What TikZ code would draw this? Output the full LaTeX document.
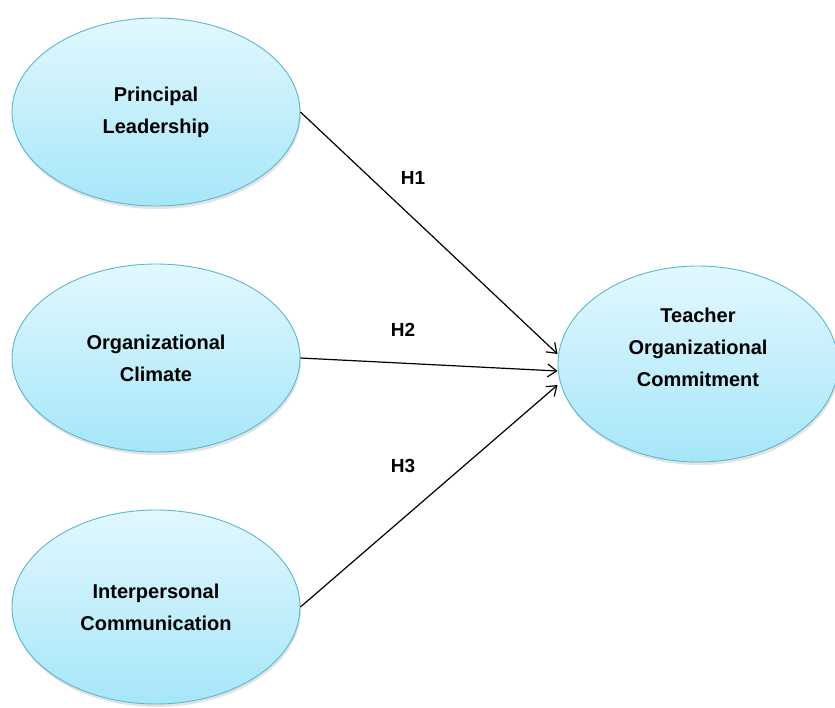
\documentclass[tikz,border=0pt]{standalone}
\usepackage{fontspec}
\setmainfont{Liberation Sans}
\usetikzlibrary{arrows.meta,shapes.geometric,shadows}

\definecolor{bubbletop}{HTML}{E2F8FE}
\definecolor{bubblebot}{HTML}{A6E6F9}
\definecolor{bubbleedge}{HTML}{5DB6CF}

\tikzset{
  construct/.style={
    ellipse, draw=bubbleedge, line width=0.9pt,
    top color=bubbletop, bottom color=bubblebot,
    minimum width=288pt, minimum height=188pt, inner sep=0pt,
    align=center, font=\bfseries\fontsize{20}{32}\selectfont,
    drop shadow={opacity=0.22, shadow xshift=1pt, shadow yshift=-3pt}
  },
  path/.style={line width=1.2pt, -{Straight Barb[length=9pt,width=13pt,line width=1.2pt]}},
  hyp/.style={font=\bfseries\fontsize{19}{21}\selectfont}
}

\begin{document}
\begin{tikzpicture}[x=1pt,y=-1pt]
  \useasboundingbox (0,0) rectangle (835,707);

  \node[construct] (pl) at (156,112) {Principal\\Leadership};
  \node[construct] (oc) at (156,358) {Organizational\\Climate};
  \node[construct, minimum height=194pt] (ic) at (156,607) {Interpersonal\\Communication};
  % the text block sits a little above the centre of this ellipse
  \node[construct, minimum width=280pt, minimum height=196pt, text depth=34pt] (toc) at (698,364)
    {Teacher\\Organizational\\Commitment};

  \draw[path] (pl.east) -- ([yshift=10pt]toc.west);
  \draw[path] (oc.east) -- ([yshift=-7pt]toc.west);
  \draw[path] (ic.east) -- ([yshift=-21pt]toc.west);

  \node[hyp] (h1) at (413,178) {H1};
  \node[hyp] (h2) at (403,330) {H2};
  \node[hyp] (h3) at (403,466) {H3};
\end{tikzpicture}
\end{document}
